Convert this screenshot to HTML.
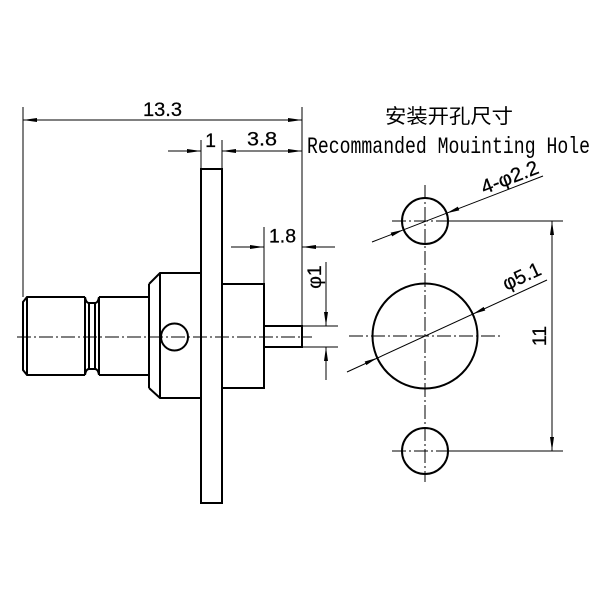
<!DOCTYPE html>
<html><head><meta charset="utf-8"><style>
html,body{margin:0;padding:0;background:#fff;}
svg{display:block;}
</style></head><body>
<svg width="600" height="600" viewBox="0 0 600 600" xmlns="http://www.w3.org/2000/svg">
<rect width="600" height="600" fill="#fff"/>
<!-- thick outlines -->
<g fill="none" stroke="#000" stroke-width="2" stroke-linejoin="miter">
  <rect x="201" y="169" width="21" height="334"/>
  <path d="M85 297 L27 297 L23 302 L23 370 L27 375 L85 375"/>
  <path d="M27 297 L27 375 M85 297 L85 375"/>
  <path d="M85 297 Q86 303 89 303 L95 303 Q98 303 99 297"/>
  <path d="M85 375 Q86 369 89 369 L95 369 Q98 369 99 375"/>
  <path d="M89 303 L89 369 M95 303 L95 369 M99 297 L99 375"/>
  <path d="M99 297 L149 297 M99 375 L149 375"/>
  <path d="M149 284 L149 388 M149 284 L160 273 L201 273 M149 388 L160 398 L201 398 M160 273 L160 398"/>
  <circle cx="174.5" cy="337" r="13.5"/>
  <path d="M222 284 L264 284 L264 388 L222 388"/>
  <path d="M264 326 L302 326 L302 347 L264 347"/>
  <circle cx="425" cy="221" r="23"/>
  <circle cx="425" cy="336" r="52.5"/>
  <circle cx="425" cy="451" r="23"/>
</g>
<!-- center lines -->
<g fill="none" stroke="#000" stroke-width="1" stroke-dasharray="14 3 2 3">
  <path d="M17 337 L312 337"/>
  <path d="M425 185 L425 482"/>
  <path d="M392 221 L447 221"/>
  <path d="M349 336 L502 336"/>
  <path d="M392 451 L448 451"/>
</g>
<!-- thin dimension lines -->
<g fill="none" stroke="#000" stroke-width="1">
  <path d="M23 107 L23 297 M302 107 L302 326"/>
  <path d="M23 120 L302 120"/>
  <path d="M201 140 L201 169 M222 140 L222 169"/>
  <path d="M168 151 L201 151 M222 151 L302 151"/>
  <path d="M264 227 L264 284"/>
  <path d="M231 247 L264 247 M302 247 L335 247"/>
  <path d="M302 326 L338 326 M302 347 L338 347"/>
  <path d="M326 262 L326 326 M326 347 L326 380"/>
  <path d="M448 221 L563 221 M448 451 L563 451"/>
  <path d="M552 221 L552 451"/>
  <path d="M372 242 L543 176"/>
  <path d="M347 372 L547 280"/>
</g>
<!-- arrowheads -->
<g fill="#000" stroke="none">
  <polygon points="23,120 37,118 37,122"/>
  <polygon points="302,120 288,118 288,122"/>
  <polygon points="201,151 187,149 187,153"/>
  <polygon points="222,151 236,149 236,153"/>
  <polygon points="302,151 288,149 288,153"/>
  <polygon points="264,247 250,245 250,249"/>
  <polygon points="302,247 316,245 316,249"/>
  <polygon points="326,326 324,312 328,312"/>
  <polygon points="326,347 324,361 328,361"/>
  <polygon points="552,221 550,235 554,235"/>
  <polygon points="552,451 550,437 554,437"/>
  <polygon points="403.5,229.8 392.1,236.4 390.7,232.6"/>
  <polygon points="446.5,213.2 459.3,210.4 457.9,206.6"/>
  <polygon points="377.3,357.9 366.3,365.1 364.7,361.5"/>
  <polygon points="472.7,314.1 485.3,310.5 483.7,306.9"/>
</g>
<!-- texts -->
<g font-family="'Liberation Sans', sans-serif" font-size="19.5" fill="#000" stroke="#000" stroke-width="0.25">
  <text x="143" y="116" textLength="39" lengthAdjust="spacingAndGlyphs">13.3</text>
  <text x="210.5" y="147" text-anchor="middle">1</text>
  <text x="247" y="145.5" textLength="30" lengthAdjust="spacingAndGlyphs">3.8</text>
  <text x="269" y="242.5" textLength="27" lengthAdjust="spacingAndGlyphs">1.8</text>
  <text transform="translate(315,277) rotate(-90)" text-anchor="middle" dominant-baseline="central">φ1</text>
  <text transform="translate(540,336) rotate(-90)" text-anchor="middle" dominant-baseline="central">11</text>
  <text transform="translate(510,178) rotate(-21.1)" text-anchor="middle" dominant-baseline="central" font-size="20" textLength="60" lengthAdjust="spacingAndGlyphs">4-φ2.2</text>
  <text transform="translate(522,277) rotate(-24.7)" text-anchor="middle" dominant-baseline="central" font-size="20" textLength="40" lengthAdjust="spacingAndGlyphs">φ5.1</text>
</g>
<text x="449" y="123" text-anchor="middle" font-family="'Liberation Sans','Noto Sans CJK SC',sans-serif" font-size="20" textLength="128" lengthAdjust="spacingAndGlyphs">安装开孔尺寸</text>
<text x="307" y="153" font-family="'Liberation Mono', monospace" font-size="23" textLength="283" lengthAdjust="spacingAndGlyphs">Recommanded Mouinting Hole</text>
</svg>
</body></html>
